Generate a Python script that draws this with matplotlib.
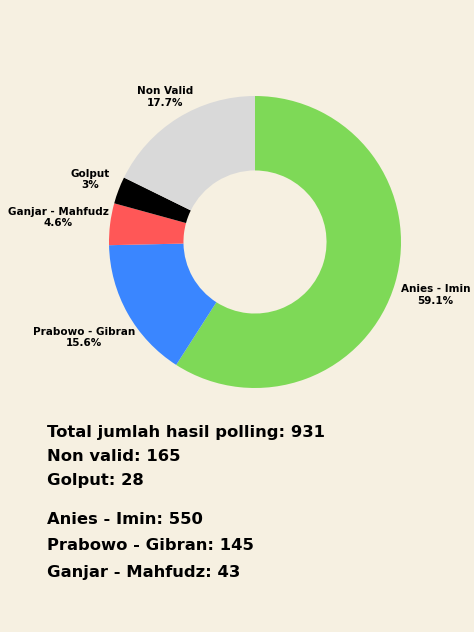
import matplotlib.pyplot as plt
import numpy as np

# data hasil polling
labels = ["Anies - Imin", "Prabowo - Gibran", "Ganjar - Mahfudz", "Golput", "Non Valid"]
counts = [550, 145, 43, 28, 165]
pct_text = ["59.1%", "15.6%", "4.6%", "3%", "17.7%"]
colors = ["#7ED957", "#3A86FF", "#FF5757", "#000000", "#D9D9D9"]

summary_top = ["Total jumlah hasil polling: 931", "Non valid: 165", "Golput: 28"]
summary_bottom = ["Anies - Imin: 550", "Prabowo - Gibran: 145", "Ganjar - Mahfudz: 43"]

bg = "#F6F0E1"
plt.rcParams['font.family'] = ['DejaVu Sans']

fig = plt.figure(figsize=(4.74, 6.32), dpi=100, facecolor=bg)
# axes placed so donut centre ~ (255, 242) px, radius ~146 px
ax = fig.add_axes([(255 - 190) / 474, 1 - (242 + 190) / 632, 380 / 474, 380 / 632])
ax.set_facecolor(bg)

R = 146 / 190
wedges, _ = ax.pie(counts, colors=colors, startangle=90, counterclock=False,
                   radius=R, wedgeprops=dict(width=R * 0.51, linewidth=0))

r_lab = [1.29, 1.34, 1.36, 1.21, 1.17]
for w, lab, p, rl in zip(wedges, labels, pct_text, r_lab):
    ang = np.deg2rad((w.theta1 + w.theta2) / 2)
    ax.text(np.cos(ang) * rl * R, np.sin(ang) * rl * R, lab + "\n" + p,
            ha="center", va="center", fontsize=7.5, fontweight="bold", linespacing=1.15)

ax.set_xlim(-1, 1)
ax.set_ylim(-1, 1)
ax.set_aspect("equal")
ax.axis("off")

y0 = 432
for i, t in enumerate(summary_top):
    fig.text(47 / 474, 1 - (y0 + i * 24.5) / 632, t, fontsize=11.8, fontweight="bold",
             va="center", ha="left")
y1 = 520
for i, t in enumerate(summary_bottom):
    fig.text(47 / 474, 1 - (y1 + i * 26) / 632, t, fontsize=11.8, fontweight="bold",
             va="center", ha="left")

fig.savefig("out.png", dpi=100, facecolor=bg)
